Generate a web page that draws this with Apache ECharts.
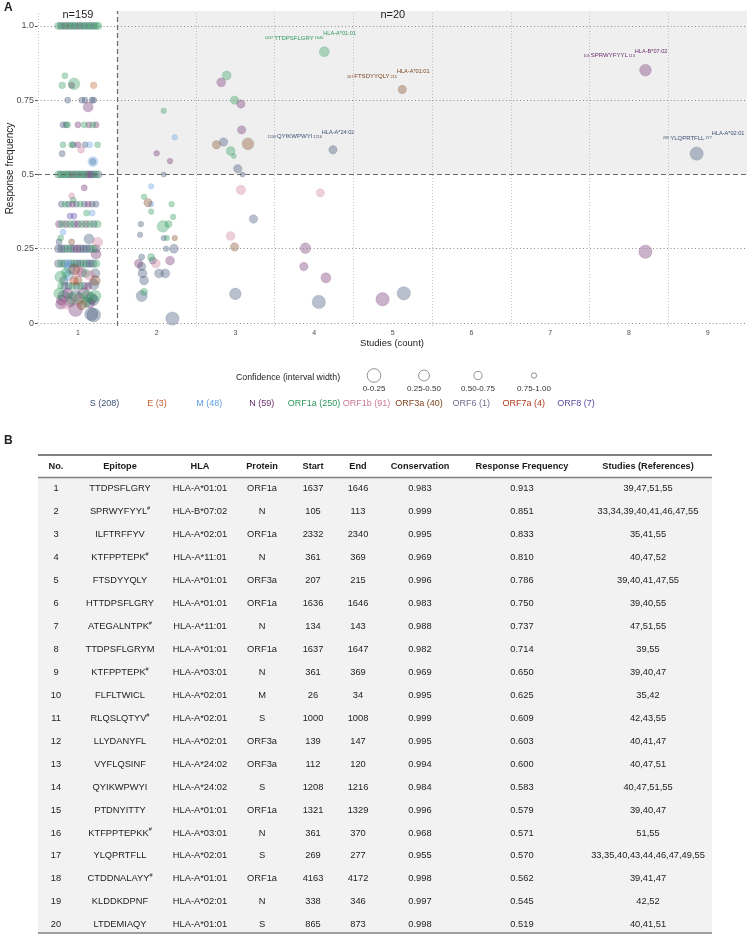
<!DOCTYPE html>
<html><head><meta charset="utf-8">
<script src="https://cdn.jsdelivr.net/npm/echarts@6/dist/echarts.min.js"></script>
<style>html,body{margin:0;padding:0;background:#fff}#c{width:748px;height:938px}</style>
</head><body><div id="c"></div>
<script>
const FONT = 'Liberation Sans, Arial, Helvetica, sans-serif';

// ---------------- DATA ----------------
const proteins = ['S','E','M','N','ORF1a','ORF1b','ORF3a','ORF6','ORF7a','ORF8'];
const proteinCounts = [208,3,48,59,250,91,40,1,4,7];
const proteinColors = ['#3b4f75','#c0622f','#5d9ee0','#6b2c6b','#2d9959','#cc7898','#7f4420','#6e6e90','#b2391c','#5b4aa3'];

const xTicks = [1,2,3,4,5,6,7,8,9];
const yTicks = [0,0.25,0.5,0.75,1];
const xGridMinor = [0.5,2.5,3.5,4.5,5.5,6.5,7.5,8.5];
const yGridMinor = [0,0.25,0.75,1];
const xThreshold = 1.5;
const yThreshold = 0.5;

const confidenceBins = ['0-0.25','0.25-0.50','0.50-0.75','0.75-1.00'];
const confidenceMid = [0.125,0.375,0.625,0.875];

const groupCounts = ['n=159','n=20'];

// Table (panel B)
const tableNo = [1,2,3,4,5,6,7,8,9,10,11,12,13,14,15,16,17,18,19,20];
const epitopes = ['TTDPSFLGRY','SPRWYFYYL','ILFTRFFYV','KTFPPTEPK','FTSDYYQLY','HTTDPSFLGRY','ATEGALNTPK','TTDPSFLGRYM','KTFPPTEPK','FLFLTWICL','RLQSLQTYV','LLYDANYFL','VYFLQSINF','QYIKWPWYI','PTDNYITTY','KTFPPTEPKK','YLQPRTFLL','CTDDNALAYY','KLDDKDPNF','LTDEMIAQY'];
const epitopeFlag = [0,1,0,1,0,0,1,0,1,0,1,0,0,0,0,1,0,1,0,0];
const hlas = ['HLA-A*01:01','HLA-B*07:02','HLA-A*02:01','HLA-A*11:01','HLA-A*01:01','HLA-A*01:01','HLA-A*11:01','HLA-A*01:01','HLA-A*03:01','HLA-A*02:01','HLA-A*02:01','HLA-A*02:01','HLA-A*24:02','HLA-A*24:02','HLA-A*01:01','HLA-A*03:01','HLA-A*02:01','HLA-A*01:01','HLA-A*02:01','HLA-A*01:01'];
const tableProtein = ['ORF1a','N','ORF1a','N','ORF3a','ORF1a','N','ORF1a','N','M','S','ORF3a','ORF3a','S','ORF1a','N','S','ORF1a','N','S'];
const starts = [1637,105,2332,361,207,1636,134,1637,361,26,1000,139,112,1208,1321,361,269,4163,338,865];
const ends = [1646,113,2340,369,215,1646,143,1647,369,34,1008,147,120,1216,1329,370,277,4172,346,873];
const conservation = ['0.983','0.999','0.995','0.969','0.996','0.983','0.988','0.982','0.969','0.995','0.999','0.995','0.994','0.984','0.996','0.968','0.955','0.998','0.997','0.998'];
const respFreq = [0.913,0.851,0.833,0.810,0.786,0.750,0.737,0.714,0.650,0.625,0.609,0.603,0.600,0.583,0.579,0.571,0.570,0.562,0.545,0.519];
const studyRefs = ['39,47,51,55','33,34,39,40,41,46,47,55','35,41,55','40,47,52','39,40,41,47,55','39,40,55','47,51,55','39,55','39,40,47','35,42','42,43,55','40,41,47','40,47,51','40,47,51,55','39,40,47','51,55','33,35,40,43,44,46,47,49,55','39,41,47','42,52','40,41,51'];
// jittered study-count positions and interval widths of these 20 epitopes
const topJitterX = [4.13,8.21,2.89,2.82,5.12,2.99,3.07,2.09,3.08,2.23,2.85,3.16,2.76,4.24,2.94,2.00,8.86,2.98,2.17,3.03];
const topWidth = [0.45,0.3,0.55,0.55,0.6,0.6,0.6,0.85,0.6,0.85,0.6,0.3,0.6,0.6,0.55,0.85,0.15,0.9,0.85,0.6];
const labeledRows = [1,2,5,14,17];

// Other epitopes: [jittered studies, response frequency, interval width, protein]
const otherPoints = [
 // studies = 1, frequency 1.0
 [0.75,1,.7,'ORF1a'],[0.78,1,.7,'S'],[0.81,1,.7,'ORF1a'],[0.84,1,.7,'N'],[0.87,1,.7,'ORF1a'],[0.90,1,.7,'S'],
 [0.93,1,.7,'ORF1a'],[0.96,1,.7,'S'],[0.99,1,.7,'ORF1a'],[1.02,1,.7,'N'],[1.05,1,.7,'ORF1a'],[1.08,1,.7,'S'],
 [1.11,1,.7,'ORF1a'],[1.14,1,.7,'S'],[1.17,1,.7,'ORF1a'],[1.20,1,.7,'S'],[1.23,1,.7,'ORF1a'],[1.26,1,.7,'ORF1a'],
 [0.835,0.832,.8,'ORF1a'],[0.80,0.80,.75,'ORF1a'],[0.95,0.805,.3,'ORF1a'],[0.92,0.80,.8,'N'],[1.20,0.80,.75,'E'],
 [0.87,.75,.8,'S'],[1.05,.75,.8,'S'],[1.09,.75,.8,'S'],[1.18,.75,.8,'S'],[1.20,.75,.8,'S'],[1.13,.727,.45,'N'],
 [0.81,.667,.8,'S'],[0.85,.667,.8,'S'],[0.87,.667,.8,'ORF1a'],[1.00,.667,.8,'N'],[1.08,.667,.8,'ORF1a'],[1.14,.667,.8,'N'],[1.19,.667,.8,'ORF1a'],[1.23,.667,.8,'N'],
 [0.81,.6,.8,'ORF1a'],[0.92,.6,.8,'ORF1a'],[0.94,.6,.8,'S'],[1.00,.6,.8,'N'],[1.09,.6,.8,'S'],[1.15,.6,.8,'M'],[1.25,.6,.8,'ORF1a'],
 [1.04,.583,.75,'ORF1b'],[0.80,.57,.8,'S'],[1.19,.543,.45,'M'],[1.19,.543,.8,'S'],
 [0.75,.5,.7,'ORF1a'],[0.78,.5,.7,'S'],[0.81,.5,.7,'ORF1a'],[0.84,.5,.7,'ORF1a'],[0.87,.5,.7,'S'],[0.90,.5,.7,'ORF1a'],
 [0.93,.5,.7,'N'],[0.96,.5,.7,'ORF1a'],[0.99,.5,.7,'S'],[1.02,.5,.7,'ORF1a'],[1.05,.5,.7,'S'],[1.08,.5,.7,'ORF1a'],
 [1.11,.5,.7,'S'],[1.14,.5,.7,'N'],[1.17,.5,.7,'S'],[1.20,.5,.7,'S'],[1.23,.5,.7,'ORF1a'],[1.26,.5,.7,'S'],
 [1.08,.455,.8,'N'],[0.92,.428,.8,'ORF1b'],[0.94,.414,.8,'ORF1a'],
 [0.79,.4,.8,'S'],[0.84,.4,.8,'ORF1a'],[0.88,.4,.8,'S'],[0.93,.4,.8,'N'],[0.98,.4,.8,'S'],[1.03,.4,.8,'ORF1a'],
 [1.08,.4,.8,'S'],[1.13,.4,.8,'N'],[1.18,.4,.8,'S'],[1.23,.4,.8,'S'],
 [0.90,.36,.8,'ORF8'],[0.95,.36,.8,'ORF8'],[1.11,.37,.8,'ORF1a'],[1.18,.37,.8,'M'],
 [0.76,.333,.7,'N'],[0.80,.333,.7,'ORF1a'],[0.85,.333,.7,'N'],[0.90,.333,.7,'ORF1a'],[0.95,.333,.7,'S'],[1.00,.333,.7,'N'],
 [1.05,.333,.7,'ORF1a'],[1.10,.333,.7,'N'],[1.15,.333,.7,'ORF1a'],[1.20,.333,.7,'S'],[1.25,.333,.7,'ORF1a'],
 [0.81,.306,.8,'M'],[0.78,.286,.8,'ORF1a'],[0.76,.273,.8,'S'],[0.92,.273,.8,'ORF3a'],[1.14,.283,.45,'S'],[1.25,.272,.45,'ORF1b'],
 [0.75,.25,.65,'S'],[0.79,.25,.65,'S'],[0.83,.25,.65,'S'],[0.87,.25,.65,'ORF1a'],[0.91,.25,.65,'S'],[0.95,.25,.65,'S'],
 [0.99,.25,.65,'N'],[1.03,.25,.65,'S'],[1.07,.25,.65,'S'],[1.11,.25,.65,'S'],[1.15,.25,.65,'S'],[1.19,.25,.65,'ORF1a'],[1.23,.25,.65,'S'],
 [1.23,.232,.45,'N'],
 [0.75,.2,.65,'S'],[0.79,.2,.65,'ORF1a'],[0.83,.2,.65,'S'],[0.87,.2,.6,'M'],[0.91,.2,.65,'S'],[0.95,.2,.65,'ORF1a'],
 [0.99,.2,.65,'S'],[1.03,.2,.65,'S'],[1.07,.2,.65,'ORF1a'],[1.11,.2,.65,'S'],[1.15,.2,.65,'S'],[1.19,.2,.65,'S'],[1.23,.2,.65,'ORF1a'],
 [0.90,.185,.3,'M'],[0.95,.18,.35,'ORF3a'],[1.00,.175,.4,'ORF1b'],[0.85,.17,.5,'ORF1a'],[1.05,.17,.5,'N'],[1.10,.167,.6,'ORF1a'],
 [0.78,.155,.3,'ORF1a'],[0.88,.16,.45,'M'],[1.15,.16,.45,'ORF1b'],[1.22,.143,.45,'ORF3a'],[1.22,.167,.5,'S'],
 [0.82,.143,.6,'S'],[0.95,.143,.6,'ORF7a'],[1.00,.143,.6,'ORF3a'],[1.20,.13,.4,'S'],
 [0.78,.125,.8,'ORF1a'],[0.83,.125,.7,'S'],[0.88,.125,.7,'S'],[0.93,.125,.7,'ORF1a'],[0.98,.125,.7,'S'],[1.03,.125,.7,'ORF1a'],[1.08,.125,.7,'S'],[1.13,.125,.7,'N'],
 [0.76,.1,.4,'ORF1a'],[0.82,.091,.3,'S'],[0.87,.1,.4,'N'],[0.92,.083,.3,'ORF1a'],[0.97,.091,.3,'S'],[1.02,.083,.35,'ORF1a'],
 [1.07,.1,.3,'N'],[1.12,.091,.3,'ORF1a'],[1.17,.083,.3,'S'],[1.22,.091,.3,'ORF1a'],
 [0.79,.077,.45,'N'],[0.90,.071,.45,'S'],[1.00,.077,.3,'ORF1b'],[1.10,.071,.4,'ORF1a'],[1.20,.077,.4,'S'],
 [0.78,.063,.45,'N'],[0.85,.066,.35,'ORF1b'],[0.97,.045,.1,'N'],[1.05,.06,.5,'ORF3a'],[1.15,.067,.45,'N'],[1.20,.027,.1,'S'],[1.17,.03,.15,'S'],
 // studies = 2
 [2.09,.5,.9,'S'],[1.93,.46,.85,'M'],[1.84,.425,.85,'ORF1a'],[1.89,.405,.6,'ORF3a'],[1.93,.40,.85,'M'],[1.93,.375,.85,'ORF1a'],
 [2.19,.40,.85,'ORF1a'],[2.21,.357,.85,'ORF1a'],[1.80,.333,.85,'S'],[2.08,.325,.3,'ORF1a'],[2.15,.333,.7,'ORF1a'],[1.79,.297,.85,'S'],
 [2.09,.286,.85,'S'],[2.13,.286,.85,'ORF1a'],[2.23,.286,.85,'ORF3a'],[2.12,.25,.85,'S'],[2.22,.25,.55,'S'],[1.81,.222,.8,'S'],
 [1.93,.222,.7,'ORF1a'],[1.95,.21,.7,'S'],[1.77,.2,.6,'N'],[1.99,.2,.55,'ORF1b'],[2.17,.21,.55,'N'],[1.81,.19,.6,'S'],
 [1.82,.167,.55,'S'],[2.03,.167,.55,'S'],[2.11,.167,.55,'S'],[1.84,.143,.55,'S'],[1.84,.105,.7,'ORF1a'],[1.81,.091,.35,'S'],[2.20,.015,.15,'S'],
 // studies = 3
 [3.09,.5,.9,'S'],[3.07,.448,.5,'ORF1b'],[3.23,.35,.6,'S'],[2.94,.293,.55,'ORF1b'],[2.99,.256,.6,'ORF3a'],[3.00,.098,.3,'S'],
 // studies = 4, 5
 [4.08,.438,.6,'ORF1b'],[3.89,.252,.4,'N'],[3.87,.19,.6,'N'],[4.15,.152,.45,'N'],[4.06,.071,.15,'S'],[4.87,.08,.15,'N'],[5.14,.10,.15,'S'],
 // studies = 8
 [8.21,.24,.15,'N']
];

// ---------------- CHART ----------------
const colorOf = p => proteinColors[proteins.indexOf(p)];
const rgba = (hex, a) => {
  const n = parseInt(hex.slice(1), 16);
  return 'rgba(' + ((n >> 16) & 255) + ',' + ((n >> 8) & 255) + ',' + (n & 255) + ',' + a + ')';
};
const radiusOf = w => 7.5 - 5.5 * w;
const labelOffsets = {TTDPSFLGRY:[-14,0], SPRWYFYYL:[-20,0], FTSDYYQLY:[-14,0], QYIKWPWYI:[-22,0], YLQPRTFLL:[7,0]};

const seriesData = {};
proteins.forEach(p => seriesData[p] = []);
otherPoints.forEach(pt => seriesData[pt[3]].push({value:[pt[0], pt[1], pt[2]]}));
tableNo.forEach((no, i) => {
  const item = {value:[topJitterX[i], respFreq[i], topWidth[i]]};
  if (labeledRows.indexOf(no) >= 0) {
    const c = colorOf(tableProtein[i]);
    item.label = {
      show: true, position: 'top', distance: 1, opacity: 1,
      offset: labelOffsets[epitopes[i]] || [0,0],
      formatter: '{n|' + starts[i] + ' }{e|' + epitopes[i] + '}{n| ' + ends[i] + '}{h|' + hlas[i] + '}',
      rich: {
        n: {fontSize: 3.8, color: c, fontFamily: FONT, lineHeight: 15, verticalAlign: 'middle'},
        e: {fontSize: 6, color: c, fontFamily: FONT, lineHeight: 15, verticalAlign: 'middle'},
        h: {fontSize: 5.6, color: c, fontFamily: FONT, lineHeight: 7, verticalAlign: 'top'}
      }
    };
  }
  seriesData[tableProtein[i]].push(item);
});

const scatterSeries = proteins.map((p, k) => ({
  name: p, type: 'scatter', z: 3,
  data: seriesData[p],
  symbolSize: v => 2 * radiusOf(v[2]),
  itemStyle: {color: rgba(proteinColors[k], 0.45), borderColor: rgba(proteinColors[k], 0.35), borderWidth: 0.6},
  emphasis: {disabled: true}
}));

const helperSeries = {
  type: 'line', data: [], z: 1, silent: true,
  markArea: {silent: true, itemStyle: {color: '#efefef'},
    data: [[{xAxis: xThreshold, yAxis: yThreshold}, {xAxis: 9.5, yAxis: 1.05}]]},
  markLine: {silent: true, symbol: ['none','none'], label: {show: false}, animation: false,
    data: [].concat(
      xGridMinor.map(v => ({xAxis: v, lineStyle: {color: '#b5b5b5', type: [1,2], width: 0.8}})),
      yGridMinor.map(v => ({yAxis: v, lineStyle: {color: '#8a8a8a', type: [1,2.5], width: 1}})),
      [{xAxis: xThreshold, lineStyle: {color: '#6a6a6a', type: [5,3], width: 1.2}},
       {yAxis: yThreshold, lineStyle: {color: '#6a6a6a', type: [5,3], width: 1.2}}]
    )},
  markPoint: {silent: true, symbol: 'circle', symbolSize: 0,
    label: {show: true, position: 'inside', fontSize: 11, color: '#222', fontFamily: FONT, formatter: p => p.name},
    data: [{name: groupCounts[0], coord: [1, 1.037]}, {name: groupCounts[1], coord: [5.0, 1.037]}]}
};

// ---------------- GRAPHICS: legends, panel labels, table ----------------
const g = [];
const txt = (text, x, y, o) => g.push({type: 'text', silent: true, style: Object.assign({text, x, y, fill: '#222', font: '9px ' + FONT, textAlign: 'center', textVerticalAlign: 'middle'}, o || {})});
txt('A', 4, 8, {font: 'bold 12px ' + FONT, textAlign: 'left'});
txt('B', 4, 441, {font: 'bold 12px ' + FONT, textAlign: 'left'});

// confidence legend
txt('Confidence (interval width)', 288, 378, {font: '8.8px ' + FONT});
const confX = [374, 424, 478, 534];
confidenceBins.forEach((b, i) => {
  g.push({type: 'circle', silent: true, shape: {cx: confX[i], cy: 375.5, r: radiusOf(confidenceMid[i])},
    style: {fill: 'none', stroke: '#777', lineWidth: 0.8}});
  txt(b, confX[i], 388.5, {font: '8px ' + FONT, fill: '#333'});
});
// protein legend
proteins.forEach((p, i) => {
  txt(p + ' (' + proteinCounts[i] + ')', 104.5 + i * 52.4, 404, {font: '9px ' + FONT, fill: proteinColors[i]});
});

// table
const colX = [56, 120, 200, 262, 313, 358, 420, 522, 648];
const headers = ['No.', 'Epitope', 'HLA', 'Protein', 'Start', 'End', 'Conservation', 'Response Frequency', 'Studies (References)'];
const tL = 38, tR = 712, tTop = 455, hBot = 477.5, tBot = 933;
g.push({type: 'rect', silent: true, shape: {x: tL, y: hBot, width: tR - tL, height: tBot - hBot}, style: {fill: '#f2f2f2'}});
g.push({type: 'line', silent: true, shape: {x1: tL, y1: tTop, x2: tR, y2: tTop}, style: {stroke: '#555', lineWidth: 1.6}});
g.push({type: 'line', silent: true, shape: {x1: tL, y1: hBot, x2: tR, y2: hBot}, style: {stroke: '#808080', lineWidth: 1.4}});
g.push({type: 'line', silent: true, shape: {x1: tL, y1: tBot, x2: tR, y2: tBot}, style: {stroke: '#808080', lineWidth: 1.6}});
headers.forEach((h, j) => txt(h, colX[j], 466.3, {font: 'bold 9.2px ' + FONT, fill: '#1a1a1a'}));
tableNo.forEach((no, i) => {
  const y = 488.7 + i * 22.95;
  const cells = [String(no), null, hlas[i], tableProtein[i], String(starts[i]), String(ends[i]), conservation[i], respFreq[i].toFixed(3), studyRefs[i]];
  cells.forEach((c, j) => {
    if (j === 1) {
      g.push({type: 'text', silent: true, style: {
        text: '{e|' + epitopes[i] + '}' + (epitopeFlag[i] ? '{s|#}' : ''),
        x: colX[j], y: y, textAlign: 'center', textVerticalAlign: 'middle',
        rich: {e: {fontSize: 9.3, fontFamily: FONT, fill: '#222', color: '#222', lineHeight: 12},
               s: {fontSize: 5.5, fontFamily: FONT, fill: '#222', color: '#222', lineHeight: 7, verticalAlign: 'top'}}
      }});
    } else {
      txt(c, colX[j], y, {font: '9.3px ' + FONT, fill: '#222'});
    }
  });
});

const chart = echarts.init(document.getElementById('c'), null, {renderer: 'canvas'});
chart.setOption({
  animation: false,
  backgroundColor: '#fff',
  textStyle: {fontFamily: FONT},
  grid: {left: 37, top: 11, width: 710, height: 315, containLabel: false, outerBoundsMode: 'none'},
  xAxis: {
    type: 'value', min: 0.48, max: 9.5,
    axisLine: {show: false}, axisTick: {show: false}, splitLine: {show: false},
    axisLabel: {customValues: xTicks, fontSize: 7, color: '#4d4d4d', margin: 4, fontFamily: FONT},
    name: 'Studies (count)', nameLocation: 'middle', nameGap: 12, nameMoveOverlap: false,
    nameTextStyle: {fontSize: 9.5, color: '#222', fontFamily: FONT}
  },
  yAxis: {
    type: 'value', min: -0.01, max: 1.05,
    axisLine: {show: false}, splitLine: {show: false},
    axisTick: {show: true, customValues: yTicks, length: 2, lineStyle: {color: '#444'}},
    axisLabel: {customValues: yTicks, fontSize: 9, color: '#4d4d4d', margin: 3, fontFamily: FONT,
      formatter: v => v === 1 ? '1.0' : String(v)},
    name: 'Response frequency', nameLocation: 'middle', nameGap: 22, nameMoveOverlap: false,
    nameTextStyle: {fontSize: 10, color: '#222', fontFamily: FONT}
  },
  series: [helperSeries].concat(scatterSeries),
  graphic: g
});
</script></body></html>
